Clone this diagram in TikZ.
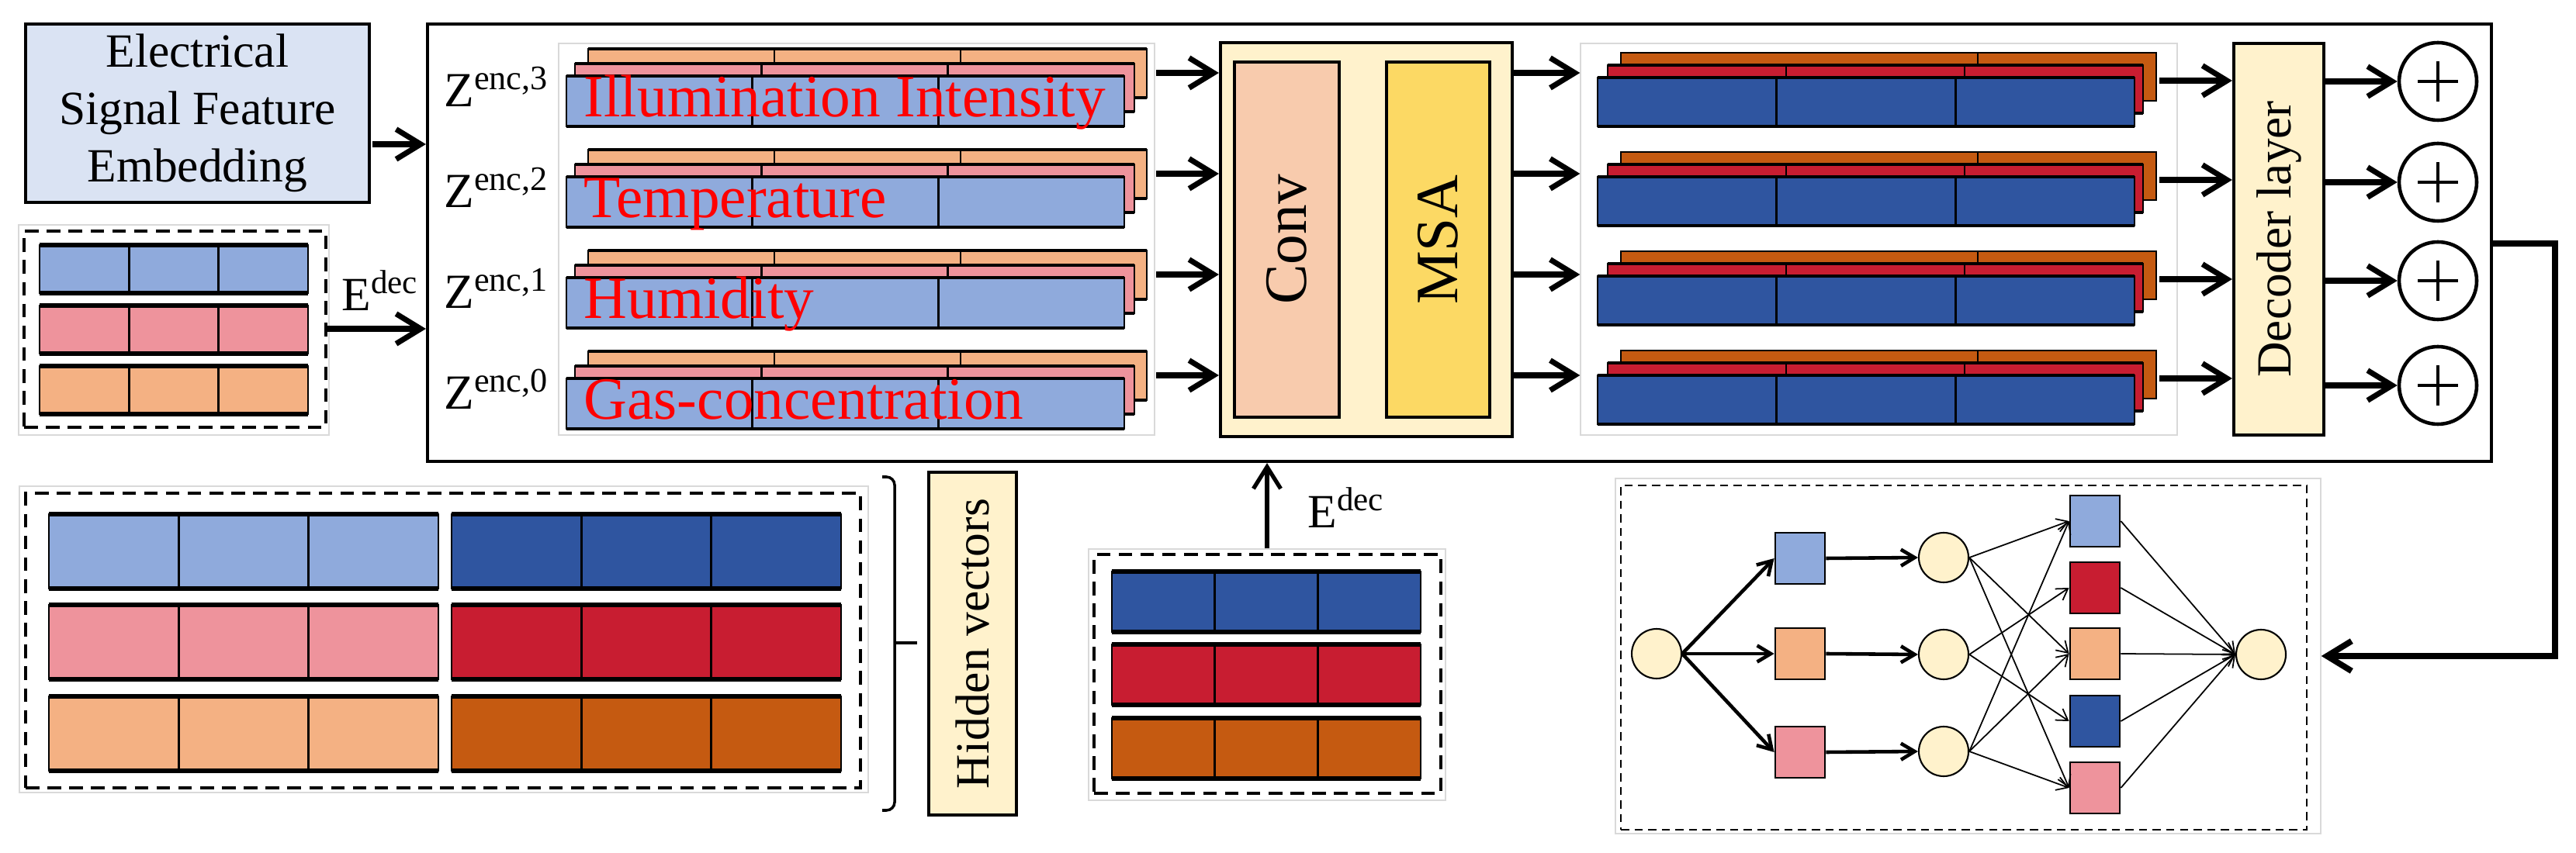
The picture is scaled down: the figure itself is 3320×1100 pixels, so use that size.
\documentclass[tikz,border=0pt]{standalone}
\usepackage{fontspec}
\setmainfont{Liberation Serif}
\usetikzlibrary{arrows.meta,fit}

\definecolor{lblue}{HTML}{8FAADC}
\definecolor{dblue}{HTML}{2F55A0}
\definecolor{lpink}{HTML}{EE939C}
\definecolor{dred}{HTML}{C81D31}
\definecolor{lorange}{HTML}{F4B183}
\definecolor{dorange}{HTML}{C55A11}
\definecolor{cream}{HTML}{FFF2CC}
\definecolor{convc}{HTML}{F8CBAD}
\definecolor{msac}{HTML}{FCD964}
\definecolor{esfc}{HTML}{DAE3F3}

% x y width height fill edge
\newcommand{\vecrow}[6]{%
  \foreach \j in {0,1,2}
    \draw[cellb,fill=#5] ({#1+\j*#3/3},#2) rectangle ++({#3/3},#4);
  \draw[line width=#6] (#1,#2) -- ++(#3,0) (#1,#2+#4) -- ++(#3,0);
}

\begin{document}
\begin{tikzpicture}[x=0.1mm,y=-0.1mm,
  arr/.style={-{Straight Barb[length=9pt,width=11pt]},line width=2pt},
  uparr/.style={-{Straight Barb[length=8pt,width=10pt]},line width=1.5pt},
  midarr/.style={-{Straight Barb[length=5pt,width=6pt]},line width=1.3pt},
  thinarr/.style={-{Straight Barb[length=4pt,width=5pt]},line width=0.5pt},
  box/.style={draw,line width=1.2pt,inner sep=0pt},
  dbox/.style={draw,dashed,dash pattern=on 5pt off 3pt,line width=1pt,inner sep=0pt},
  faint/.style={draw=black!15,line width=0.4pt,inner sep=0pt},
  cellb/.style={line width=0.7pt},
  txt/.style={font=\fontsize{17.5}{21}\selectfont},
  feat/.style={font=\fontsize{22}{26}\selectfont,text=red,inner sep=0pt},
  vtxt/.style={rotate=90,font=\fontsize{22}{26}\selectfont},
  sq/.style={draw,line width=0.8pt,minimum width=0.64cm,minimum height=0.66cm,inner sep=0pt},
  neur/.style={draw,circle,fill=cream,line width=0.6pt,minimum size=0.64cm,inner sep=0pt},
  plusnode/.style={draw,circle,line width=1.3pt,minimum size=1cm,inner sep=0pt,
    path picture={\draw[line width=1.3pt]
      ([xshift=-0.26cm]path picture bounding box.center) -- ([xshift=0.26cm]path picture bounding box.center)
      ([yshift=-0.26cm]path picture bounding box.center) -- ([yshift=0.26cm]path picture bounding box.center);}}]
\useasboundingbox (0,0) rectangle (3320,1100);

\node[box,fill=esfc,fit={(33,31) (476,261)}] (esf) {};
\node[txt,align=center] (esft) at (esf.center) {Electrical\\Signal Feature\\Embedding};
\node[box,fit={(551,31) (3211,595)}] (main) {};
\node[faint,fit={(720,56) (1488,561)}] (lstack) {};
\node[faint,fit={(2037,56) (2806,561)}] (rstack) {};
\node[box,fill=cream,fit={(1573,55) (1949,563)}] (convbox) {};
\node[box,fill=convc,fit={(1591,80) (1726,538)}] (conv) {};
\node[box,fill=msac,fit={(1787,80) (1920,538)}] (msa) {};
\node[vtxt] (convt) at (conv.center) {Conv};
\node[vtxt] (msat) at (msa.center) {MSA};
\node[box,fill=cream,fit={(2879,56) (2995,561)}] (dec) {};
\node[vtxt,font=\fontsize{18}{22}\selectfont] (dect) at (dec.center) {Decoder layer};

\coordinate (esfout) at (480,186);
\draw[arr] (esfout) -- (esfout -| main.west);

\node[faint,fit={(24,290) (424,561)}] (edecf) {};
\node[dbox,fit={(31,298) (420,551)}] (edecl) {};
\foreach \ty/\c in {316/lblue,394/lpink,472/lorange}{\vecrow{51}{\ty}{346}{62}{\c}{1.6pt}}
\node[txt] (edl) at (490,375) {E\textsuperscript{dec}};
\coordinate (edout) at (422,424);
\draw[arr] (edout) -- (edout -| main.west);

\foreach \r/\k/\txt in {0/3/Illumination Intensity,1/2/Temperature,2/1/Humidity,3/0/Gas-concentration}{
  \pgfmathsetmacro\ty{63+130*\r}
  \vecrow{758}{\ty}{720}{63}{lorange}{1pt}
  \vecrow{741}{\ty+19}{721}{62}{lpink}{1pt}
  \vecrow{730}{\ty+35}{719}{65}{lblue}{1.2pt}
  \node[feat,anchor=base west] (f\k) at (752,\ty+88) {\txt};
  \node[font=\fontsize{18}{22}\selectfont] (z\k) at (640,\ty+49) {Z\textsuperscript{enc,\k}};
  \coordinate (ci\r) at (1490,\ty+31);
  \draw[arr] (ci\r) -- (ci\r -| convbox.west);
  \draw[arr] (ci\r -| convbox.east) -- (ci\r -| rstack.west);
}

\foreach \r in {0,...,3}{
  \pgfmathsetmacro\ty{68+128*\r}
  \draw[cellb,fill=dorange] (2089,\ty) rectangle ++(690,62);
  \draw[cellb] (2549,\ty) -- ++(0,62);
  \vecrow{2072}{\ty+16}{690}{62}{dred}{1pt}
  \vecrow{2059}{\ty+32}{692}{63}{dblue}{1.2pt}
  \coordinate (ro\r) at (2783,\ty+36);
  \draw[arr] (ro\r) -- (ro\r -| dec.west);
}

\foreach \r/\py in {0/105,1/235,2/362,3/497}{
  \node[plusnode] (p\r) at (3142,\py) {};
  \draw[arr] (p\r -| dec.east) -- (p\r.west);
}

\node[faint,fit={(25,627) (1119,1022)}] (hidf) {};
\node[dbox,fit={(33,636) (1109,1016)}] (hidbox) {};
\foreach \ty/\ca/\cb in {663/lblue/dblue,780/lpink/dred,898/lorange/dorange}{
  \vecrow{63}{\ty}{502}{96}{\ca}{1.6pt}
  \vecrow{582}{\ty}{502}{96}{\cb}{1.6pt}
}
\draw[line width=1pt,rounded corners=3pt] (1137,615) -- (1153,615) -- (1153,1045) -- (1137,1045);
\draw[line width=1pt] (1153,829) -- (1182,829);
\node[box,fill=cream,fit={(1197,609) (1310,1051)}] (hid) {};
\node[vtxt,txt] (hidt) at (hid.center) {Hidden vectors};

\node[faint,fit={(1403,708) (1863,1032)}] (edecbf) {};
\node[dbox,fit={(1410,715) (1857,1023)}] (edecb) {};
\foreach \ty/\c in {737/dblue,831/dred,926/dorange}{\vecrow{1433}{\ty}{398}{78}{\c}{1.6pt}}
\draw[uparr] (edecbf.north) -- (edecbf.north |- main.south);
\node[txt] (edb) at (1735,655) {E\textsuperscript{dec}};

\node[faint,fit={(2082,617) (2991,1075)}] (nnf) {};
\node[draw,dashed,dash pattern=on 3pt off 2pt,line width=0.5pt,inner sep=0pt,fit={(2089,626) (2973,1070)}] (nnbox) {};
\node[neur] (nin) at (2135,843) {};
\node[sq,fill=lblue] (a1) at (2320,720) {};
\node[sq,fill=lorange] (a2) at (2320,843) {};
\node[sq,fill=lpink] (a3) at (2320,970) {};
\node[neur] (h1) at (2505,719) {};
\node[neur] (h2) at (2505,844) {};
\node[neur] (h3) at (2505,969) {};
\node[sq,fill=lblue] (b1) at (2700,672) {};
\node[sq,fill=dred] (b2) at (2700,758) {};
\node[sq,fill=lorange] (b3) at (2700,843) {};
\node[sq,fill=dblue] (b4) at (2700,930) {};
\node[sq,fill=lpink] (b5) at (2700,1016) {};
\node[neur] (nout) at (2914,844) {};
\foreach \i in {1,2,3}{
  \draw[midarr] (nin.east) -- (a\i.west);
  \draw[midarr] (a\i.east) -- (h\i.west);
}
\foreach \s/\e in {1/1,1/3,1/5,2/2,2/4,3/1,3/3,3/5}
  \draw[thinarr] (h\s.east) -- (b\e.west);
\foreach \e in {1,...,5}
  \draw[thinarr] (b\e.east) -- (nout.west);

\coordinate (fb) at (3293,314);
\draw[arr,line width=2.2pt] (fb -| main.east) -- (fb) |- (nnf.east);
\end{tikzpicture}
\end{document}
